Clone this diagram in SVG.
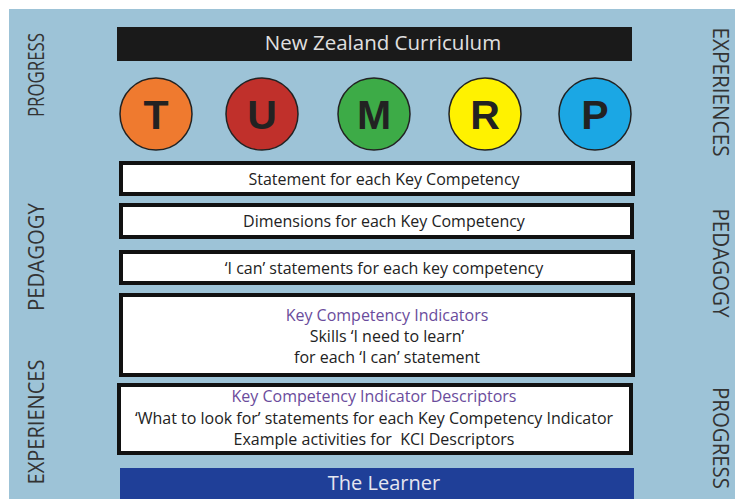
<svg xmlns="http://www.w3.org/2000/svg" width="735" height="499" viewBox="0 0 735 499">
<style>
.t{font-family:"Open Sans","Liberation Sans",sans-serif;}
.side{font-family:"Open Sans","Liberation Sans",sans-serif;font-size:21px;fill:#333;text-anchor:middle;}
.box{fill:#fff;stroke:#111;stroke-width:4;}
.bt{font-family:"Open Sans","Liberation Sans",sans-serif;font-size:16px;fill:#222;text-anchor:middle;}
.pu{fill:#6a4c9c;}
.circ{stroke:#222;stroke-width:1.5;}
.let{font-family:"Liberation Sans",Arial,sans-serif;font-weight:bold;font-size:41px;fill:#222;text-anchor:middle;}
</style>
<rect width="735" height="499" fill="#fff"/>
<rect x="9" y="9" width="726" height="490" fill="#9dc3d7"/>
<g id="side-labels">
<text class="side" transform="translate(44,75) rotate(-90)" textLength="84" lengthAdjust="spacingAndGlyphs">PROGRESS</text>
<text class="side" transform="translate(44,257) rotate(-90)" textLength="108" lengthAdjust="spacingAndGlyphs">PEDAGOGY</text>
<text class="side" transform="translate(44,422) rotate(-90)" textLength="125" lengthAdjust="spacingAndGlyphs">EXPERIENCES</text>
<text class="side" transform="translate(713,92) rotate(90)" textLength="129" lengthAdjust="spacingAndGlyphs">EXPERIENCES</text>
<text class="side" transform="translate(713,263) rotate(90)" textLength="109" lengthAdjust="spacingAndGlyphs">PEDAGOGY</text>
<text class="side" transform="translate(713,438) rotate(90)" textLength="102" lengthAdjust="spacingAndGlyphs">PROGRESS</text>
</g>
<g id="nzc">
<rect x="117" y="27" width="515" height="34" fill="#1a1a1a"/>
<text class="t" x="383" y="50" font-size="20.5" fill="#e0e0e0" text-anchor="middle">New Zealand Curriculum</text>
</g>
<g id="circle-T"><circle class="circ" cx="156" cy="114" r="36" fill="#ef7a2f"/><text class="let" x="156" y="129">T</text></g>
<g id="circle-U"><circle class="circ" cx="262" cy="114" r="36" fill="#c0302b"/><text class="let" x="262" y="129">U</text></g>
<g id="circle-M"><circle class="circ" cx="374" cy="114" r="36" fill="#3dab47"/><text class="let" x="374" y="129">M</text></g>
<g id="circle-R"><circle class="circ" cx="485" cy="114" r="36" fill="#fff200"/><text class="let" x="485" y="129">R</text></g>
<g id="circle-P"><circle class="circ" cx="595" cy="114" r="36" fill="#1ba7e4"/><text class="let" x="595" y="129">P</text></g>
<g id="box-statement">
<rect class="box" x="121" y="163" width="512" height="31"/>
<text class="bt" x="384" y="185">Statement for each Key Competency</text>
</g>
<g id="box-dimensions">
<rect class="box" x="121" y="205" width="511" height="32"/>
<text class="bt" x="384" y="227">Dimensions for each Key Competency</text>
</g>
<g id="box-ican">
<rect class="box" x="121" y="252" width="512" height="31"/>
<text class="bt" x="384" y="274">‘I can’ statements for each key competency</text>
</g>
<g id="box-kci">
<rect class="box" x="121" y="295" width="512" height="80"/>
<text class="bt pu" x="387" y="321">Key Competency Indicators</text>
<text class="bt" x="387" y="342">Skills ‘I need to learn’</text>
<text class="bt" x="387" y="363">for each ‘I can’ statement</text>
</g>
<g id="box-kcid">
<rect class="box" x="119" y="385" width="512" height="68"/>
<text class="bt pu" x="374" y="402">Key Competency Indicator Descriptors</text>
<text class="bt" x="374" y="424">‘What to look for’ statements for each Key Competency Indicator</text>
<text class="bt" x="374" y="445" style="white-space:pre">Example activities for  KCI Descriptors</text>
</g>
<g id="learner">
<rect x="120" y="468" width="514" height="31" fill="#1f3f98"/>
<text class="t" x="384" y="490" font-size="20" fill="#e6e6f0" text-anchor="middle">The Learner</text>
</g>
</svg>
